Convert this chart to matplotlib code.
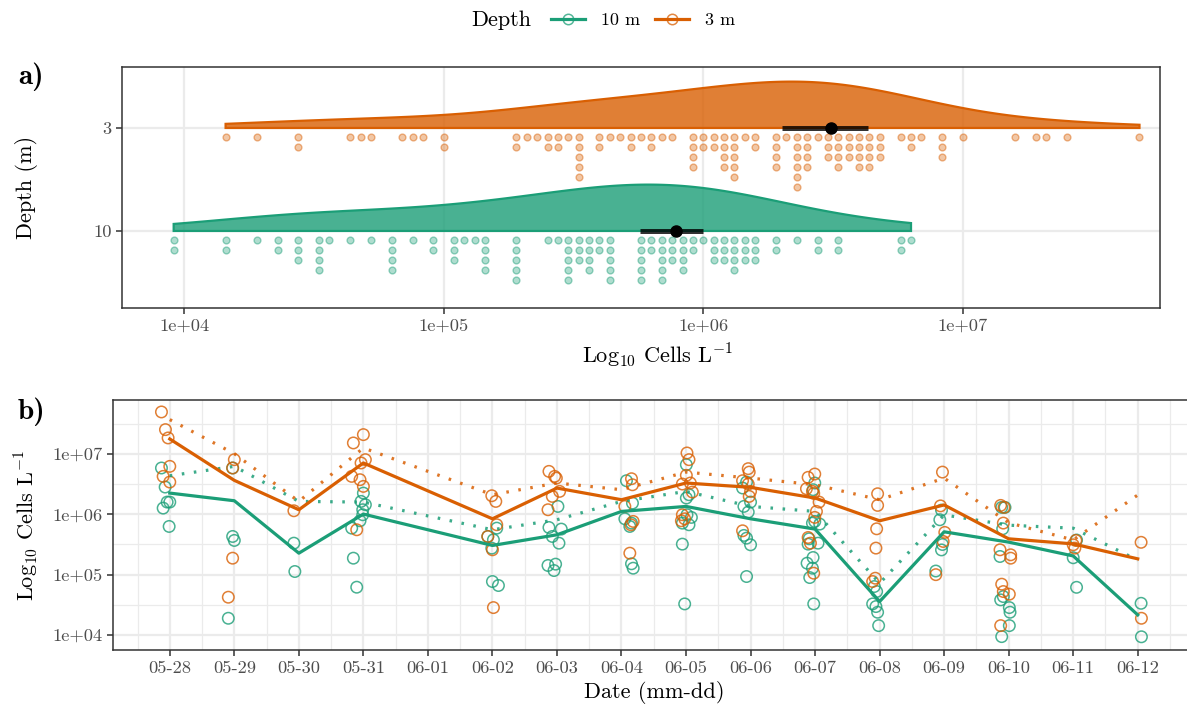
import numpy as np
import matplotlib
matplotlib.use("Agg")
import matplotlib.pyplot as plt
from matplotlib.lines import Line2D

plt.rcParams['font.family'] = ['cmr10', 'DejaVu Serif']
plt.rcParams['mathtext.fontset'] = 'cm'
plt.rcParams['axes.formatter.use_mathtext'] = True
plt.rcParams['axes.unicode_minus'] = False

# ---------------- data ----------------
depth_labels = ['10 m', '3 m']
depth_ticks = ['10', '3']
col = {'10 m': '#1B9E77', '3 m': '#D95F02'}

# panel a: dot-plot bins (log10 cells/L) and counts
dot_bins_10m = [3.96, 4.16, 4.28, 4.36, 4.44, 4.52, 4.56, 4.64, 4.72, 4.80, 4.88, 4.96, 5.04, 5.08,
                5.12, 5.16, 5.28, 5.40, 5.44, 5.48, 5.52, 5.56, 5.60, 5.64, 5.76, 5.80, 5.84, 5.88,
                5.92, 5.96, 6.00, 6.04, 6.08, 6.12, 6.16, 6.20, 6.28, 6.36, 6.44, 6.52, 6.76, 6.80]
dot_counts_10m = [2, 2, 1, 2, 3, 4, 1, 1, 1, 4, 1, 2, 3, 1,
                  1, 4, 5, 1, 1, 5, 3, 4, 2, 5, 5, 2, 5, 3,
                  4, 2, 1, 3, 3, 4, 3, 3, 2, 1, 2, 2, 2, 1]
dot_bins_3m = [4.16, 4.28, 4.44, 4.64, 4.68, 4.72, 4.84, 4.88, 4.92, 5.00, 5.28, 5.32, 5.36, 5.40,
               5.44, 5.48, 5.52, 5.60, 5.64, 5.68, 5.72, 5.76, 5.80, 5.84, 5.88, 5.96, 6.00, 6.04,
               6.08, 6.12, 6.16, 6.20, 6.28, 6.32, 6.36, 6.40, 6.44, 6.48, 6.52, 6.56, 6.60, 6.64,
               6.68, 6.76, 6.80, 6.84, 6.92, 7.00, 7.20, 7.28, 7.32, 7.40, 7.68]
dot_counts_3m = [1, 1, 2, 1, 1, 1, 1, 1, 1, 2, 2, 1, 1, 2,
                 2, 1, 5, 2, 1, 1, 2, 1, 2, 1, 1, 4, 2, 2,
                 4, 5, 1, 2, 4, 1, 6, 4, 1, 3, 4, 3, 4, 4,
                 3, 1, 2, 1, 3, 1, 1, 1, 1, 1, 1]
# mean and interval (log10 cells/L)
mean_log = [5.895, 6.49]
ci_low_log = [5.757, 6.304]
ci_high_log = [6.000, 6.635]

# panel b
date_labels = ['05-28', '05-29', '05-30', '05-31', '06-01', '06-02', '06-03', '06-04',
               '06-05', '06-06', '06-07', '06-08', '06-09', '06-10', '06-11', '06-12']
line_days = [0, 1, 2, 3, 5, 6, 7, 8, 9, 10, 11, 12, 13, 14, 15]
solid_3m = [7.249, 6.563, 6.076, 6.851, 5.926, 6.435, 6.242, 6.519, 6.447, 6.270, 5.893, 6.155, 5.594, 5.51, 5.262]
solid_10m = [6.352, 6.225, 5.356, 6.004, 5.484, 5.661, 6.048, 6.131, 5.926, 5.755, 4.554, 5.71, 5.539, 5.31, 4.333]
dotted_3m = [7.570, 7.005, 6.214, 7.10, 6.325, 6.519, 6.408, 6.70, 6.60, 6.49, 6.242, 6.60, 5.86, 5.575, 6.32]
dotted_10m = [6.640, 6.795, 6.214, 6.203, 5.744, 5.91, 6.214, 6.38, 6.131, 6.048, 4.858, 5.99, 5.82, 5.77, 5.24]

pt_day_3m = [0, 0, 0, 0, 0, 0, 1, 1, 1, 1, 2, 3, 3, 3, 3, 3, 3, 3, 3,
             5, 5, 5, 5, 5, 5, 6, 6, 6, 6, 6, 6, 7, 7, 7, 7, 7, 7,
             8, 8, 8, 8, 8, 8, 8, 8, 8, 9, 9, 9, 9, 9, 9, 9,
             10, 10, 10, 10, 10, 10, 10, 10, 10, 10, 10, 11, 11, 11, 11, 11, 11,
             12, 12, 12, 12, 12, 13, 13, 13, 13, 13, 13, 13, 13, 13, 13, 14, 14, 14, 15, 15]
pt_log_3m = [7.697, 7.404, 7.266, 6.795, 6.629, 6.535, 6.906, 6.768, 5.273, 4.626, 6.059,
             7.183, 7.321, 6.906, 6.851, 6.629, 6.574, 6.463, 5.744,
             6.308, 6.214, 5.827, 5.633, 5.412, 4.454, 6.712, 6.629, 6.60, 6.38, 6.297, 6.076,
             6.59, 6.49, 6.131, 5.882, 5.827, 5.356,
             7.017, 6.906, 6.646, 6.502, 6.519, 6.369, 5.993, 5.926, 5.893,
             6.757, 6.70, 6.557, 6.502, 6.38, 6.297, 5.727,
             6.668, 6.613, 6.424, 6.38, 6.347, 6.203, 6.048, 5.949, 5.616, 5.522, 5.024,
             6.341, 6.148, 5.76, 5.44, 4.941, 4.886,
             6.70, 6.14, 5.70, 5.55, 5.00,
             6.148, 6.115, 5.855, 5.412, 5.329, 5.273, 4.842, 4.72, 4.676, 4.155,
             5.567, 5.495, 5.44, 5.536, 4.277]
pt_jit_3m = [-0.129, -0.067, -0.026, 0.0, -0.103, 0.0, 0.0, -0.026, -0.026, -0.093, -0.077,
             -0.155, 0.0, 0.031, -0.036, -0.181, -0.052, 0.0, -0.103,
             -0.01, 0.052, 0.067, -0.072, 0.0, 0.015, -0.124, -0.036, -0.01, 0.041, -0.072, -0.139,
             0.155, 0.17, 0.052, 0.181, 0.145, 0.129,
             0.015, 0.046, 0.005, -0.057, 0.067, 0.098, -0.057, -0.021, -0.072,
             -0.036, -0.021, -0.124, -0.036, 0.0, -0.021, -0.124,
             -0.005, -0.108, -0.134, -0.041, -0.021, 0.062, 0.021, -0.005, -0.108, -0.072, -0.021,
             -0.031, -0.031, -0.046, -0.057, -0.067, -0.108,
             -0.026, -0.057, 0.01, -0.015, -0.129,
             -0.124, -0.072, -0.083, -0.134, 0.031, 0.031, -0.108, -0.083, 0.01, -0.124,
             0.041, 0.0, 0.026, 0.052, 0.057]

pt_day_10m = [0, 0, 0, 0, 0, 0, 1, 1, 1, 1, 2, 2, 3, 3, 3, 3, 3, 3, 3, 3, 3,
              5, 5, 5, 5, 5, 5, 6, 6, 6, 6, 6, 6, 6, 6, 7, 7, 7, 7, 7, 7, 7,
              8, 8, 8, 8, 8, 8, 8, 8, 8, 9, 9, 9, 9, 9, 9, 9, 9, 9,
              10, 10, 10, 10, 10, 10, 10, 10, 10, 10, 10, 10, 10,
              11, 11, 11, 11, 11, 11, 12, 12, 12, 12, 12,
              13, 13, 13, 13, 13, 13, 13, 13, 13, 13, 14, 14, 14, 15, 15]
pt_log_10m = [6.768, 6.452, 6.203, 6.203, 6.103, 5.799, 6.768, 5.633, 5.567, 4.277, 5.522, 5.052,
              6.352, 6.214, 6.159, 6.076, 5.993, 5.893, 5.771, 5.273, 4.792,
              5.633, 5.771, 5.578, 5.439, 4.886, 4.82,
              6.131, 5.782, 5.755, 5.633, 5.522, 5.152, 5.174, 5.068,
              6.557, 6.186, 5.926, 5.854, 5.799, 5.18, 5.107,
              6.823, 6.325, 6.27, 5.993, 5.949, 5.854, 5.827, 5.506, 4.515,
              6.535, 6.436, 6.203, 6.131, 6.037, 5.65, 5.605, 5.495, 4.969,
              6.519, 6.408, 5.882, 5.854, 5.838, 5.594, 5.506, 5.522, 5.284, 5.19, 5.107, 4.952, 4.515,
              4.803, 4.72, 4.515, 4.471, 4.377, 4.155,
              6.07, 5.91, 5.50, 5.41, 5.06,
              6.115, 6.115, 5.76, 5.301, 4.637, 4.582, 4.454, 4.377, 4.155, 3.973,
              5.574, 5.28, 4.79, 4.525, 3.97]
pt_jit_10m = [-0.129, -0.072, -0.041, 0.0, -0.103, -0.01, -0.026, -0.026, 0.0, -0.093, -0.077, -0.062,
              0.0, -0.036, 0.031, -0.01, -0.01, -0.052, -0.181, -0.155, -0.103,
              -0.072, 0.067, 0.015, -0.01, 0.0, 0.093,
              0.015, -0.124, 0.067, -0.072, 0.031, -0.139, -0.021, -0.046,
              0.077, 0.17, 0.052, 0.155, 0.129, 0.155, 0.181,
              0.005, 0.046, 0.005, 0.015, 0.083, -0.057, 0.046, -0.057, -0.021,
              -0.062, -0.124, 0.0, -0.103, -0.036, -0.103, -0.062, 0.0, -0.062,
              -0.005, -0.031, -0.005, -0.041, 0.072, -0.093, -0.108, 0.046, -0.031, -0.124, -0.041, -0.083, -0.021,
              -0.083, -0.046, -0.108, -0.057, -0.031, -0.015,
              -0.041, -0.067, -0.026, -0.041, -0.129,
              -0.108, -0.057, -0.093, -0.134, -0.083, -0.124, 0.01, 0.021, 0.01, -0.108,
              0.052, 0.0, 0.052, 0.052, 0.057]

# ---------------- figure ----------------
W, H = 1187, 708
fig = plt.figure(figsize=(W / 100, H / 100), dpi=100)
frame_c = '#333333'
grid_c = '#EBEBEB'
tick_c = '#4D4D4D'


def style_axes(ax):
    for s in ax.spines.values():
        s.set_color(frame_c)
        s.set_linewidth(1.1)
    ax.tick_params(which='major', direction='out', length=4.5, width=1.1, color=frame_c,
                   labelcolor=tick_c, labelsize=13.3, pad=3)
    ax.tick_params(which='minor', length=0)
    ax.set_axisbelow(True)


# ---------- panel a ----------
axA = fig.add_axes([122 / W, 1 - 308 / H, 1038 / W, 241 / H])
style_axes(axA)
axA.set_xscale('log')
axA.set_xlim(10 ** 3.761, 10 ** 7.759)
axA.set_ylim(0.252, 2.592)
axA.set_yticks([1, 2])
axA.set_yticklabels(depth_ticks)
axA.set_xticks([1e4, 1e5, 1e6, 1e7])
axA.set_xticklabels(['1e+04', '1e+05', '1e+06', '1e+07'])
axA.xaxis.set_minor_locator(matplotlib.ticker.NullLocator())
axA.grid(True, which='major', color=grid_c, lw=1.6)

bins_all = [dot_bins_10m, dot_bins_3m]
counts_all = [dot_counts_10m, dot_counts_3m]
bw = 0.32
for i, lab in enumerate(depth_labels):
    c = col[lab]
    base = i + 1
    vals = np.repeat(np.array(bins_all[i]), counts_all[i])
    grid = np.linspace(vals.min(), vals.max(), 400)
    dens = np.exp(-0.5 * ((grid[:, None] - vals[None, :]) / bw) ** 2).sum(axis=1)
    dens = dens / dens.max() * 0.45
    xs = np.concatenate([[grid[0]], grid, [grid[-1]]])
    ys = np.concatenate([[base], base + dens, [base]])
    axA.fill(10 ** xs, ys, facecolor=c, alpha=0.8, edgecolor='none', zorder=2)
    axA.fill(10 ** xs, ys, facecolor='none', edgecolor=c, lw=1.6, zorder=3)
    # dots
    dx, dy = [], []
    for b, n in zip(bins_all[i], counts_all[i]):
        for k in range(n):
            dx.append(10 ** b)
            dy.append(base - 0.083 - 0.099 * k)
    axA.scatter(dx, dy, s=24, facecolor=matplotlib.colors.to_rgba(c, 0.35),
                edgecolor=matplotlib.colors.to_rgba(c, 0.45), lw=1.0, zorder=3)
    # mean + interval
    axA.plot([10 ** ci_low_log[i], 10 ** ci_high_log[i]], [base, base], color='black', alpha=0.8,
             lw=3.6, solid_capstyle='butt', zorder=4)
    axA.plot([10 ** mean_log[i]], [base], 'o', color='black', ms=8, zorder=5)

axA.set_ylabel('Depth (m)', fontsize=16, labelpad=40)
axA.set_xlabel(r'Log$_{10}$ Cells L$^{-1}$', fontsize=16, labelpad=6)
axA.xaxis.label.set_x(0.516)

# ---------- panel b ----------
axB = fig.add_axes([113 / W, 1 - 650 / H, (16.76 * 64.53) / W, 250 / H])
style_axes(axB)
axB.set_yscale('log')
axB.set_ylim(10 ** 3.751, 10 ** 7.895)
axB.set_xlim(-0.88, 15.88)
days = np.arange(len(date_labels))
axB.set_xticks(days)
axB.set_xticklabels(date_labels)
axB.set_xticks(np.arange(-0.5, 16.0, 1.0), minor=True)
axB.set_yticks([1e4, 1e5, 1e6, 1e7])
axB.set_yticklabels(['1e+04', '1e+05', '1e+06', '1e+07'])
axB.set_yticks([10 ** 4.5, 10 ** 5.5, 10 ** 6.5, 10 ** 7.5], minor=True)
axB.yaxis.set_minor_formatter(matplotlib.ticker.NullFormatter())
axB.grid(True, which='major', color=grid_c, lw=1.6)
axB.grid(True, which='minor', color=grid_c, lw=0.9)

pts = {'10 m': (pt_day_10m, pt_log_10m, pt_jit_10m), '3 m': (pt_day_3m, pt_log_3m, pt_jit_3m)}
for lab in depth_labels:
    d, v, j = pts[lab]
    x = np.array(d) + np.array(j)
    axB.scatter(x, 10 ** np.array(v), s=68, facecolor='none',
                edgecolor=matplotlib.colors.to_rgba(col[lab], 0.8), lw=1.1, zorder=3)

lines = {'10 m': (solid_10m, dotted_10m), '3 m': (solid_3m, dotted_3m)}
for lab in depth_labels:
    s, dt = lines[lab]
    axB.plot(line_days, 10 ** np.array(dt), color=col[lab], lw=2.3, alpha=0.85,
             linestyle=(0, (0.8, 3.0)), dash_capstyle='butt', zorder=4)
    axB.plot(line_days, 10 ** np.array(s), color=col[lab], lw=2.3, zorder=4)

axB.set_ylabel(r'Log$_{10}$ Cells L$^{-1}$', fontsize=16, labelpad=8)
axB.set_xlabel('Date (mm-dd)', fontsize=16, labelpad=4)

# ---------- panel labels & legend ----------
fig.text(18 / W, 1 - 77 / H, 'a)', fontsize=21, family='cmb10', va='center', ha='left')
fig.text(18 / W, 1 - 412 / H, 'b)', fontsize=21, family='cmb10', va='center', ha='left')

fig.text(501 / W, 1 - 20 / H, 'Depth', fontsize=16, ha='center', va='center')
handles = [Line2D([], [], color=col[l], lw=2.3, marker='o', ms=7.5, markerfacecolor='none',
                  markeredgecolor=matplotlib.colors.to_rgba(col[l], 0.75), markeredgewidth=1.1)
           for l in depth_labels]
fig.legend(handles, depth_labels, loc='center', bbox_to_anchor=(643 / W, 1 - 20 / H), ncol=2,
           frameon=False, fontsize=13, handlelength=1.9, handletextpad=0.9, columnspacing=0.8,
           borderpad=0, borderaxespad=0)

fig.savefig('out.png', dpi=100)
